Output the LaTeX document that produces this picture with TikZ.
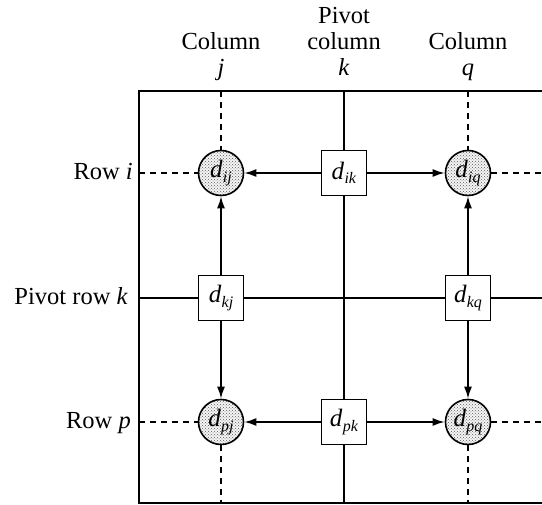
\documentclass[tikz,border=0pt]{standalone}
\usepackage{fontspec}
\setmainfont{Liberation Serif}
\usetikzlibrary{arrows.meta,patterns}
\newcommand{\dlab}[1]{\textit{d}\kern0.3pt\raisebox{-4.5pt}{\fontsize{16}{18}\selectfont\textit{#1}}}
\begin{document}
\begin{tikzpicture}[x=1pt,y=-1pt,
  lbl/.style={font=\fontsize{24.5}{26}\selectfont, inner sep=0pt},
  sq/.style={draw, line width=1.6pt, fill=white, minimum size=45pt, inner sep=0pt, font=\fontsize{25}{27}\selectfont},
  cir/.style={circle, draw, line width=1.6pt, minimum size=45pt, inner sep=0pt, font=\fontsize{25}{27}\selectfont,
              preaction={fill=black!4}, pattern=crosshatch dots, pattern color=black!65},
  framel/.style={line width=1.7pt},
  pivotl/.style={line width=2.2pt},
  dsh/.style={line width=1.6pt, dash pattern=on 6pt off 5pt},
  arr/.style={line width=1.7pt, -{Latex[length=12pt,width=8pt]}}]
\useasboundingbox (0,0) rectangle (542,505);
\fill[white] (0,0) rectangle (542,505);
% frame and pivot lines
\coordinate (tl) at (139,91);
\coordinate (tr) at (542,91);
\coordinate (bl) at (139,503);
\coordinate (br) at (542,503);
\coordinate (pct) at (344,91);
\coordinate (pcb) at (344,503);
\coordinate (prl) at (139,298);
\coordinate (prr) at (542,298);
\coordinate (cjt) at (221,91);
\coordinate (cjb) at (221,503);
\coordinate (cqt) at (468,91);
\coordinate (cqb) at (468,503);
\coordinate (ril) at (139,173);
\coordinate (rir) at (542,173);
\coordinate (rpl) at (139,422);
\coordinate (rpr) at (542,422);
\draw[framel] (tr) -- (tl) -- (bl) -- (br);
\draw[pivotl] (pct) -- (pcb);
\draw[pivotl] (prl) -- (prr);
% headers
\node[lbl, anchor=base] (hj) at (221,76) {\begin{tabular}[b]{@{}c@{}}Column\\\textit{j}\end{tabular}};
\node[lbl, anchor=base] (hk) at (344,76) {\begin{tabular}[b]{@{}c@{}}Pivot\\column\\\textit{k}\end{tabular}};
\node[lbl, anchor=base] (hq) at (468,76) {\begin{tabular}[b]{@{}c@{}}Column\\\textit{q}\end{tabular}};
% row labels
\node[lbl, anchor=base east] (li) at (133,180) {Row \textit{i}};
\node[lbl, anchor=base east] (lk) at (128,305) {Pivot row \textit{k}};
\node[lbl, anchor=base east] (lp) at (131,429) {Row \textit{p}};
% elements
\node[sq] (ik) at (344,173) {\dlab{ik}};
\node[sq] (kj) at (221,298) {\dlab{kj}};
\node[sq] (kq) at (468,298) {\dlab{kq}};
\node[sq] (pk) at (344,422) {\dlab{pk}};
\node[cir] (ij) at (221,173) {\dlab{ij}};
\node[cir] (iq) at (468,173) {\dlab{iq}};
\node[cir] (pj) at (221,422) {\dlab{pj}};
\node[cir] (pq) at (468,422) {\dlab{pq}};
% dashed lines
\draw[dsh] (cjt) -- (ij);
\draw[dsh] (pj) -- (cjb);
\draw[dsh] (cqt) -- (iq);
\draw[dsh] (pq) -- (cqb);
\draw[dsh] (ril) -- (ij);
\draw[dsh] (iq) -- (rir);
\draw[dsh] (rpl) -- (pj);
\draw[dsh] (pq) -- (rpr);
% arrows
\draw[arr] (ik) -- (ij);
\draw[arr] (ik) -- (iq);
\draw[arr] (pk) -- (pj);
\draw[arr] (pk) -- (pq);
\draw[arr] (kj) -- (ij);
\draw[arr] (kj) -- (pj);
\draw[arr] (kq) -- (iq);
\draw[arr] (kq) -- (pq);
\end{tikzpicture}
\end{document}
